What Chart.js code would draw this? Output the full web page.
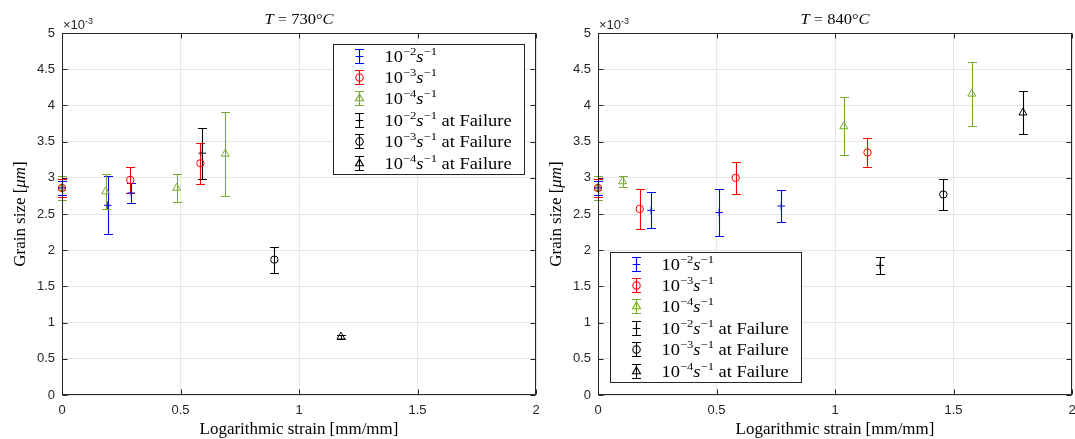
<!DOCTYPE html>
<html>
<head>
<meta charset="utf-8">
<script src="https://cdn.jsdelivr.net/npm/chart.js@4.4.1/dist/chart.umd.min.js"></script>
<style>
  html, body { margin: 0; padding: 0; background: #fff; }
  #wrap { position: relative; width: 1075px; height: 439px; }
  .panel { position: absolute; top: 0; height: 439px; }
</style>
</head>
<body>
<div id="wrap">
  <div class="panel" style="left:0;width:547px"><canvas id="c730"></canvas></div>
  <div class="panel" style="left:537px;width:538px"><canvas id="c840"></canvas></div>
</div>
<script>
// Tick positions (grain size axis is in units of 1e-3)
const xTicks = [0, 0.5, 1, 1.5, 2];
const yTicks = [0, 0.5, 1, 1.5, 2, 2.5, 3, 3.5, 4, 4.5, 5];

// T = 730 C : strain, mean grain size, error half-width
const t730_r2_x = [0, 0.193, 0.292];
const t730_r2_y = [2.86, 2.62, 2.79];
const t730_r2_e = [0.10, 0.40, 0.14];
const t730_r3_x = [0, 0.288, 0.584];
const t730_r3_y = [2.86, 2.97, 3.20];
const t730_r3_e = [0.12, 0.185, 0.28];
const t730_r4_x = [0, 0.184, 0.484, 0.689];
const t730_r4_y = [2.86, 2.81, 2.86, 3.33];
const t730_r4_e = [0.165, 0.245, 0.19, 0.58];
const t730_f2_x = [0.592];
const t730_f2_y = [3.34];
const t730_f2_e = [0.35];
const t730_f3_x = [0.896];
const t730_f3_y = [1.87];
const t730_f3_e = [0.18];
const t730_f4_x = [1.177];
const t730_f4_y = [0.805];
const t730_f4_e = [0.03];

// T = 840 C
const t840_r2_x = [0, 0.224, 0.511, 0.773];
const t840_r2_y = [2.86, 2.55, 2.52, 2.61];
const t840_r2_e = [0.10, 0.25, 0.33, 0.225];
const t840_r3_x = [0, 0.176, 0.581, 1.137];
const t840_r3_y = [2.86, 2.57, 3.00, 3.35];
const t840_r3_e = [0.12, 0.28, 0.22, 0.20];
const t840_r4_x = [0, 0.104, 1.037, 1.577];
const t840_r4_y = [2.86, 2.95, 3.71, 4.16];
const t840_r4_e = [0.165, 0.08, 0.40, 0.44];
const t840_f2_x = [1.19];
const t840_f2_y = [1.79];
const t840_f2_e = [0.115];
const t840_f3_x = [1.457];
const t840_f3_y = [2.77];
const t840_f3_e = [0.21];
const t840_f4_x = [1.793];
const t840_f4_y = [3.90];
const t840_f4_e = [0.30];

const BLUE = '#0000ff', RED = '#ff0000', GREEN = '#77ac30', BLACK = '#000000';
const AXIS = '#262626';
const SERIF = '"Liberation Serif", "DejaVu Serif", serif';
const SANS = '"Liberation Sans", Arial, sans-serif';
const CAP = 4.5;

function series(exp, failure, xs, ys, es) {
  const color = failure ? BLACK : { '2': BLUE, '3': RED, '4': GREEN }[exp];
  const style = { '2': 'cross', '3': 'circle', '4': 'triangle' }[exp];
  const radius = { '2': 3.8, '3': 3.7, '4': 4.6 }[exp];
  return {
    label: '10^-' + exp + ' s^-1' + (failure ? ' at Failure' : ''),
    exp: exp,
    failure: failure,
    err: es,
    data: xs.map((x, i) => ({ x: x, y: ys[i] })),
    borderColor: color,
    pointBorderColor: color,
    pointBackgroundColor: 'rgba(0,0,0,0)',
    pointBorderWidth: 1,
    pointStyle: style,
    pointRadius: radius,
    clip: 12
  };
}

function fontFor(run, size, family) {
  return (run.it ? 'italic ' : '') + (run.sup ? Math.round(size * 0.7) : size) + 'px ' + family;
}

// draw a line of mixed roman / italic / superscript text, optionally stretched sideways
function drawRuns(ctx, runs, x, y, size, family, align, stretch) {
  const k = stretch || 1;
  const widths = runs.map(r => { ctx.font = fontFor(r, size, family); return ctx.measureText(r.t).width; });
  const total = widths.reduce((a, b) => a + b, 0) * k;
  const x0 = align === 'center' ? x - total / 2 : x;
  ctx.save();
  ctx.translate(x0, y);
  ctx.scale(k, 1);
  ctx.textAlign = 'left';
  ctx.textBaseline = 'alphabetic';
  let cx = 0;
  runs.forEach((r, i) => {
    ctx.font = fontFor(r, size, family);
    ctx.fillText(r.t, cx, r.sup ? -size * 0.4 : 0);
    cx += widths[i];
  });
  ctx.restore();
}

function rateRuns(exp, failure) {
  const runs = [{ t: '10' }, { t: '\u2212' + exp, sup: true }, { t: 's', it: true }, { t: '\u22121', sup: true }];
  if (failure) runs.push({ t: ' at Failure' });
  return runs;
}

function errorBar(ctx, px, top, bot) {
  ctx.beginPath();
  ctx.moveTo(px, top); ctx.lineTo(px, bot);
  ctx.moveTo(px - CAP, top); ctx.lineTo(px + CAP, top);
  ctx.moveTo(px - CAP, bot); ctx.lineTo(px + CAP, bot);
  ctx.stroke();
}

const errorBars = {
  id: 'errorBars',
  beforeDatasetsDraw(chart) {
    const { ctx, scales: { x, y } } = chart;
    ctx.save();
    ctx.lineWidth = 1.1;
    chart.data.datasets.forEach(ds => {
      ctx.strokeStyle = ds.borderColor;
      ds.data.forEach((p, j) => {
        const px = Math.round(x.getPixelForValue(p.x)) + 0.5;
        const top = Math.round(y.getPixelForValue(p.y + ds.err[j])) + 0.5;
        const bot = Math.round(y.getPixelForValue(p.y - ds.err[j])) + 0.5;
        errorBar(ctx, px, top, bot);
      });
    });
    ctx.restore();
  }
};

const decor = {
  id: 'decor',
  afterDraw(chart, args, opts) {
    const { ctx, chartArea: a, scales: { x, y } } = chart;
    const L = Math.round(a.left) + 0.5, R = Math.round(a.right) - 0.5;
    const T = Math.round(a.top) + 0.5, B = Math.round(a.bottom) - 0.5;
    ctx.save();

    // axes box with inward ticks
    ctx.strokeStyle = AXIS;
    ctx.lineWidth = 1;
    ctx.strokeRect(L, T, R - L, B - T);
    ctx.beginPath();
    xTicks.forEach(v => {
      const px = Math.round(x.getPixelForValue(v)) + 0.5;
      ctx.moveTo(px, B); ctx.lineTo(px, B - 5);
      ctx.moveTo(px, T); ctx.lineTo(px, T + 5);
    });
    yTicks.forEach(v => {
      const py = Math.round(y.getPixelForValue(v)) + 0.5;
      ctx.moveTo(L, py); ctx.lineTo(L + 5, py);
      ctx.moveTo(R, py); ctx.lineTo(R - 5, py);
    });
    ctx.stroke();

    // exponent above the y axis
    ctx.fillStyle = AXIS;
    drawRuns(ctx, [{ t: '\u00d710' }, { t: '-3', sup: true }], a.left + 1, a.top - 4, 13, SANS, 'left');

    // title and axis labels
    ctx.fillStyle = '#000';
    const cx = (a.left + a.right) / 2;
    drawRuns(ctx, [{ t: 'T', it: true }, { t: ' = ' + opts.temp }, { t: '\u00b0' }, { t: 'C', it: true }], cx, 24, 15, SERIF, 'center', 1.1);
    drawRuns(ctx, [{ t: 'Logarithmic strain [mm/mm]' }], cx, 434, 16, SERIF, 'center', 1.06);
    ctx.save();
    ctx.translate(a.left - 37, (a.top + a.bottom) / 2);
    ctx.rotate(-Math.PI / 2);
    drawRuns(ctx, [{ t: 'Grain size [' }, { t: '\u03bcm', it: true }, { t: ']' }], 0, 0, 16, SERIF, 'center', 1.06);
    ctx.restore();

    // legend
    const w = 191, h = 130;
    const bx = opts.corner === 'ne' ? Math.round(a.right - 12 - w) + 0.5 : Math.round(a.left + 12) + 0.5;
    const by = opts.corner === 'ne' ? Math.round(a.top + 11) + 0.5 : Math.round(a.bottom - 13 - h) + 0.5;
    ctx.fillStyle = '#fff';
    ctx.fillRect(bx, by, w, h);
    ctx.strokeStyle = AXIS;
    ctx.strokeRect(bx, by, w, h);
    chart.data.datasets.forEach((ds, i) => {
      const cy = Math.round(by + 11 + i * 21.4) + 0.5;
      const sx = Math.round(bx + 25) + 0.5;
      ctx.strokeStyle = ds.borderColor;
      ctx.fillStyle = 'rgba(0,0,0,0)';
      ctx.lineWidth = 1.1;
      errorBar(ctx, sx, cy - 7, cy + 7);
      Chart.helpers.drawPoint(ctx, { pointStyle: ds.pointStyle, radius: ds.pointRadius, rotation: 0, borderWidth: 1 }, sx, cy);
      ctx.fillStyle = '#000';
      drawRuns(ctx, rateRuns(ds.exp, ds.failure), bx + 51, cy + 5, 16, SERIF, 'left', 1.15);
    });
    ctx.restore();
  }
};

function makeChart(id, temp, corner, axisWidth, padRight, datasets) {
  return new Chart(document.getElementById(id), {
    type: 'scatter',
    data: { datasets: datasets },
    options: {
      responsive: true,
      maintainAspectRatio: false,
      animation: false,
      events: [],
      layout: { autoPadding: false, padding: { top: 33, right: padRight, left: 0, bottom: 0 } },
      plugins: {
        legend: { display: false },
        tooltip: { enabled: false },
        decor: { temp: temp, corner: corner }
      },
      scales: {
        x: {
          type: 'linear', min: 0, max: 2,
          afterBuildTicks: s => { s.ticks = xTicks.map(v => ({ value: v })); },
          afterFit: s => { s.height = 44; s.paddingLeft = 0; s.paddingRight = 0; },
          ticks: { callback: v => String(+v.toFixed(1)), color: AXIS, padding: 8, maxRotation: 0,
                   font: { family: SANS, size: 13 } },
          grid: { color: '#e6e6e6', drawTicks: false },
          border: { display: false }
        },
        y: {
          type: 'linear', min: 0, max: 5,
          afterBuildTicks: s => { s.ticks = yTicks.map(v => ({ value: v })); },
          afterFit: s => { s.width = axisWidth; s.paddingTop = 0; s.paddingBottom = 0; },
          ticks: { callback: v => String(+v.toFixed(1)), color: AXIS, padding: 7,
                   font: { family: SANS, size: 13 } },
          grid: { color: '#e6e6e6', drawTicks: false },
          border: { display: false }
        }
      }
    },
    plugins: [errorBars, decor]
  });
}

makeChart('c730', '730', 'ne', 62, 11, [
  series('2', false, t730_r2_x, t730_r2_y, t730_r2_e),
  series('3', false, t730_r3_x, t730_r3_y, t730_r3_e),
  series('4', false, t730_r4_x, t730_r4_y, t730_r4_e),
  series('2', true, t730_f2_x, t730_f2_y, t730_f2_e),
  series('3', true, t730_f3_x, t730_f3_y, t730_f3_e),
  series('4', true, t730_f4_x, t730_f4_y, t730_f4_e)
]);

makeChart('c840', '840', 'sw', 61, 3, [
  series('2', false, t840_r2_x, t840_r2_y, t840_r2_e),
  series('3', false, t840_r3_x, t840_r3_y, t840_r3_e),
  series('4', false, t840_r4_x, t840_r4_y, t840_r4_e),
  series('2', true, t840_f2_x, t840_f2_y, t840_f2_e),
  series('3', true, t840_f3_x, t840_f3_y, t840_f3_e),
  series('4', true, t840_f4_x, t840_f4_y, t840_f4_e)
]);
</script>
</body>
</html>
